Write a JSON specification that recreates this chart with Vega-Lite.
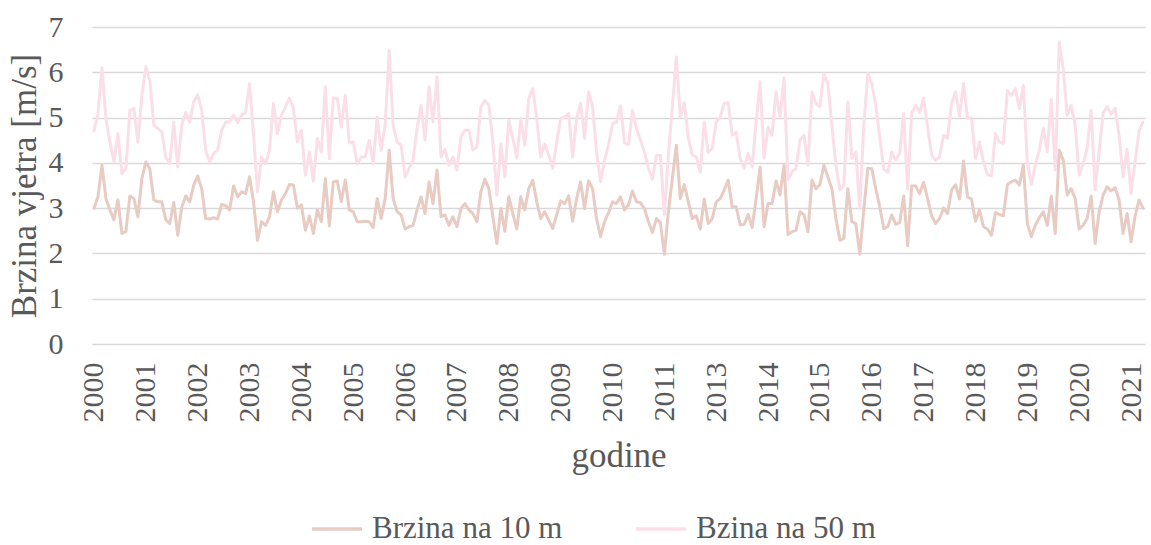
{
  "$schema": "https://vega.github.io/schema/vega-lite/v6.json",
  "width": 1053,
  "height": 317,
  "autosize": "none",
  "padding": {"left": 92, "top": 27, "right": 6, "bottom": 201},
  "background": "white",
  "config": {"view": {"stroke": null}, "font": "Liberation Serif"},
  "data": {"values": [
    {"mjesec":"2000-01","Brzina na 10 m":3.00,"Bzina na 50 m":4.70},
    {"mjesec":"2000-02","Brzina na 10 m":3.25,"Bzina na 50 m":5.09},
    {"mjesec":"2000-03","Brzina na 10 m":3.95,"Bzina na 50 m":6.10},
    {"mjesec":"2000-04","Brzina na 10 m":3.21,"Bzina na 50 m":4.97},
    {"mjesec":"2000-05","Brzina na 10 m":2.96,"Bzina na 50 m":4.46},
    {"mjesec":"2000-06","Brzina na 10 m":2.74,"Bzina na 50 m":4.02},
    {"mjesec":"2000-07","Brzina na 10 m":3.18,"Bzina na 50 m":4.65},
    {"mjesec":"2000-08","Brzina na 10 m":2.44,"Bzina na 50 m":3.76},
    {"mjesec":"2000-09","Brzina na 10 m":2.48,"Bzina na 50 m":3.88},
    {"mjesec":"2000-10","Brzina na 10 m":3.27,"Bzina na 50 m":5.16},
    {"mjesec":"2000-11","Brzina na 10 m":3.21,"Bzina na 50 m":5.20},
    {"mjesec":"2000-12","Brzina na 10 m":2.81,"Bzina na 50 m":4.46},
    {"mjesec":"2001-01","Brzina na 10 m":3.65,"Bzina na 50 m":5.49},
    {"mjesec":"2001-02","Brzina na 10 m":4.02,"Bzina na 50 m":6.12},
    {"mjesec":"2001-03","Brzina na 10 m":3.87,"Bzina na 50 m":5.82},
    {"mjesec":"2001-04","Brzina na 10 m":3.18,"Bzina na 50 m":4.83},
    {"mjesec":"2001-05","Brzina na 10 m":3.14,"Bzina na 50 m":4.76},
    {"mjesec":"2001-06","Brzina na 10 m":3.14,"Bzina na 50 m":4.68},
    {"mjesec":"2001-07","Brzina na 10 m":2.74,"Bzina na 50 m":4.13},
    {"mjesec":"2001-08","Brzina na 10 m":2.66,"Bzina na 50 m":3.98},
    {"mjesec":"2001-09","Brzina na 10 m":3.13,"Bzina na 50 m":4.90},
    {"mjesec":"2001-10","Brzina na 10 m":2.40,"Bzina na 50 m":3.91},
    {"mjesec":"2001-11","Brzina na 10 m":3.02,"Bzina na 50 m":4.83},
    {"mjesec":"2001-12","Brzina na 10 m":3.27,"Bzina na 50 m":5.11},
    {"mjesec":"2002-01","Brzina na 10 m":3.14,"Bzina na 50 m":4.90},
    {"mjesec":"2002-02","Brzina na 10 m":3.51,"Bzina na 50 m":5.35},
    {"mjesec":"2002-03","Brzina na 10 m":3.71,"Bzina na 50 m":5.51},
    {"mjesec":"2002-04","Brzina na 10 m":3.43,"Bzina na 50 m":5.16},
    {"mjesec":"2002-05","Brzina na 10 m":2.77,"Bzina na 50 m":4.28},
    {"mjesec":"2002-06","Brzina na 10 m":2.76,"Bzina na 50 m":4.02},
    {"mjesec":"2002-07","Brzina na 10 m":2.79,"Bzina na 50 m":4.21},
    {"mjesec":"2002-08","Brzina na 10 m":2.76,"Bzina na 50 m":4.28},
    {"mjesec":"2002-09","Brzina na 10 m":3.08,"Bzina na 50 m":4.72},
    {"mjesec":"2002-10","Brzina na 10 m":3.06,"Bzina na 50 m":4.90},
    {"mjesec":"2002-11","Brzina na 10 m":2.96,"Bzina na 50 m":4.90},
    {"mjesec":"2002-12","Brzina na 10 m":3.49,"Bzina na 50 m":5.05},
    {"mjesec":"2003-01","Brzina na 10 m":3.25,"Bzina na 50 m":4.89},
    {"mjesec":"2003-02","Brzina na 10 m":3.36,"Bzina na 50 m":5.05},
    {"mjesec":"2003-03","Brzina na 10 m":3.32,"Bzina na 50 m":5.11},
    {"mjesec":"2003-04","Brzina na 10 m":3.69,"Bzina na 50 m":5.75},
    {"mjesec":"2003-05","Brzina na 10 m":3.14,"Bzina na 50 m":4.61},
    {"mjesec":"2003-06","Brzina na 10 m":2.29,"Bzina na 50 m":3.36},
    {"mjesec":"2003-07","Brzina na 10 m":2.70,"Bzina na 50 m":4.13},
    {"mjesec":"2003-08","Brzina na 10 m":2.62,"Bzina na 50 m":3.98},
    {"mjesec":"2003-09","Brzina na 10 m":2.81,"Bzina na 50 m":4.28},
    {"mjesec":"2003-10","Brzina na 10 m":3.36,"Bzina na 50 m":5.31},
    {"mjesec":"2003-11","Brzina na 10 m":2.92,"Bzina na 50 m":4.64},
    {"mjesec":"2003-12","Brzina na 10 m":3.18,"Bzina na 50 m":5.05},
    {"mjesec":"2004-01","Brzina na 10 m":3.32,"Bzina na 50 m":5.24},
    {"mjesec":"2004-02","Brzina na 10 m":3.52,"Bzina na 50 m":5.43},
    {"mjesec":"2004-03","Brzina na 10 m":3.51,"Bzina na 50 m":5.20},
    {"mjesec":"2004-04","Brzina na 10 m":3.00,"Bzina na 50 m":4.46},
    {"mjesec":"2004-05","Brzina na 10 m":3.07,"Bzina na 50 m":4.72},
    {"mjesec":"2004-06","Brzina na 10 m":2.51,"Bzina na 50 m":3.73},
    {"mjesec":"2004-07","Brzina na 10 m":2.83,"Bzina na 50 m":4.24},
    {"mjesec":"2004-08","Brzina na 10 m":2.44,"Bzina na 50 m":3.60},
    {"mjesec":"2004-09","Brzina na 10 m":2.96,"Bzina na 50 m":4.54},
    {"mjesec":"2004-10","Brzina na 10 m":2.70,"Bzina na 50 m":4.24},
    {"mjesec":"2004-11","Brzina na 10 m":3.65,"Bzina na 50 m":5.68},
    {"mjesec":"2004-12","Brzina na 10 m":2.61,"Bzina na 50 m":4.09},
    {"mjesec":"2005-01","Brzina na 10 m":3.58,"Bzina na 50 m":5.43},
    {"mjesec":"2005-02","Brzina na 10 m":3.60,"Bzina na 50 m":5.42},
    {"mjesec":"2005-03","Brzina na 10 m":3.14,"Bzina na 50 m":4.79},
    {"mjesec":"2005-04","Brzina na 10 m":3.62,"Bzina na 50 m":5.49},
    {"mjesec":"2005-05","Brzina na 10 m":2.96,"Bzina na 50 m":4.44},
    {"mjesec":"2005-06","Brzina na 10 m":2.92,"Bzina na 50 m":4.46},
    {"mjesec":"2005-07","Brzina na 10 m":2.70,"Bzina na 50 m":3.98},
    {"mjesec":"2005-08","Brzina na 10 m":2.70,"Bzina na 50 m":4.13},
    {"mjesec":"2005-09","Brzina na 10 m":2.71,"Bzina na 50 m":4.13},
    {"mjesec":"2005-10","Brzina na 10 m":2.70,"Bzina na 50 m":4.50},
    {"mjesec":"2005-11","Brzina na 10 m":2.57,"Bzina na 50 m":3.98},
    {"mjesec":"2005-12","Brzina na 10 m":3.21,"Bzina na 50 m":5.01},
    {"mjesec":"2006-01","Brzina na 10 m":2.77,"Bzina na 50 m":4.28},
    {"mjesec":"2006-02","Brzina na 10 m":3.21,"Bzina na 50 m":4.83},
    {"mjesec":"2006-03","Brzina na 10 m":4.28,"Bzina na 50 m":6.49},
    {"mjesec":"2006-04","Brzina na 10 m":3.21,"Bzina na 50 m":4.83},
    {"mjesec":"2006-05","Brzina na 10 m":2.92,"Bzina na 50 m":4.46},
    {"mjesec":"2006-06","Brzina na 10 m":2.85,"Bzina na 50 m":4.39},
    {"mjesec":"2006-07","Brzina na 10 m":2.54,"Bzina na 50 m":3.69},
    {"mjesec":"2006-08","Brzina na 10 m":2.59,"Bzina na 50 m":3.88},
    {"mjesec":"2006-09","Brzina na 10 m":2.62,"Bzina na 50 m":4.06},
    {"mjesec":"2006-10","Brzina na 10 m":2.96,"Bzina na 50 m":4.76},
    {"mjesec":"2006-11","Brzina na 10 m":3.25,"Bzina na 50 m":5.27},
    {"mjesec":"2006-12","Brzina na 10 m":2.88,"Bzina na 50 m":4.50},
    {"mjesec":"2007-01","Brzina na 10 m":3.58,"Bzina na 50 m":5.68},
    {"mjesec":"2007-02","Brzina na 10 m":3.10,"Bzina na 50 m":4.90},
    {"mjesec":"2007-03","Brzina na 10 m":3.84,"Bzina na 50 m":5.90},
    {"mjesec":"2007-04","Brzina na 10 m":2.81,"Bzina na 50 m":4.13},
    {"mjesec":"2007-05","Brzina na 10 m":2.85,"Bzina na 50 m":4.30},
    {"mjesec":"2007-06","Brzina na 10 m":2.62,"Bzina na 50 m":3.95},
    {"mjesec":"2007-07","Brzina na 10 m":2.81,"Bzina na 50 m":4.13},
    {"mjesec":"2007-08","Brzina na 10 m":2.59,"Bzina na 50 m":3.84},
    {"mjesec":"2007-09","Brzina na 10 m":2.99,"Bzina na 50 m":4.57},
    {"mjesec":"2007-10","Brzina na 10 m":3.10,"Bzina na 50 m":4.72},
    {"mjesec":"2007-11","Brzina na 10 m":2.96,"Bzina na 50 m":4.72},
    {"mjesec":"2007-12","Brzina na 10 m":2.88,"Bzina na 50 m":4.28},
    {"mjesec":"2008-01","Brzina na 10 m":2.70,"Bzina na 50 m":4.35},
    {"mjesec":"2008-02","Brzina na 10 m":3.36,"Bzina na 50 m":5.24},
    {"mjesec":"2008-03","Brzina na 10 m":3.64,"Bzina na 50 m":5.38},
    {"mjesec":"2008-04","Brzina na 10 m":3.43,"Bzina na 50 m":5.27},
    {"mjesec":"2008-05","Brzina na 10 m":2.81,"Bzina na 50 m":4.46},
    {"mjesec":"2008-06","Brzina na 10 m":2.22,"Bzina na 50 m":3.29},
    {"mjesec":"2008-07","Brzina na 10 m":2.99,"Bzina na 50 m":4.42},
    {"mjesec":"2008-08","Brzina na 10 m":2.49,"Bzina na 50 m":3.69},
    {"mjesec":"2008-09","Brzina na 10 m":3.25,"Bzina na 50 m":4.94},
    {"mjesec":"2008-10","Brzina na 10 m":2.88,"Bzina na 50 m":4.54},
    {"mjesec":"2008-11","Brzina na 10 m":2.54,"Bzina na 50 m":4.10},
    {"mjesec":"2008-12","Brzina na 10 m":3.25,"Bzina na 50 m":4.98},
    {"mjesec":"2009-01","Brzina na 10 m":2.96,"Bzina na 50 m":4.39},
    {"mjesec":"2009-02","Brzina na 10 m":3.43,"Bzina na 50 m":5.42},
    {"mjesec":"2009-03","Brzina na 10 m":3.62,"Bzina na 50 m":5.64},
    {"mjesec":"2009-04","Brzina na 10 m":3.14,"Bzina na 50 m":4.98},
    {"mjesec":"2009-05","Brzina na 10 m":2.77,"Bzina na 50 m":4.13},
    {"mjesec":"2009-06","Brzina na 10 m":2.92,"Bzina na 50 m":4.42},
    {"mjesec":"2009-07","Brzina na 10 m":2.74,"Bzina na 50 m":4.17},
    {"mjesec":"2009-08","Brzina na 10 m":2.55,"Bzina na 50 m":3.88},
    {"mjesec":"2009-09","Brzina na 10 m":2.85,"Bzina na 50 m":4.46},
    {"mjesec":"2009-10","Brzina na 10 m":3.16,"Bzina na 50 m":4.98},
    {"mjesec":"2009-11","Brzina na 10 m":3.10,"Bzina na 50 m":5.01},
    {"mjesec":"2009-12","Brzina na 10 m":3.27,"Bzina na 50 m":5.09},
    {"mjesec":"2010-01","Brzina na 10 m":2.71,"Bzina na 50 m":4.13},
    {"mjesec":"2010-02","Brzina na 10 m":3.21,"Bzina na 50 m":4.98},
    {"mjesec":"2010-03","Brzina na 10 m":3.58,"Bzina na 50 m":5.31},
    {"mjesec":"2010-04","Brzina na 10 m":2.99,"Bzina na 50 m":4.54},
    {"mjesec":"2010-05","Brzina na 10 m":3.60,"Bzina na 50 m":5.57},
    {"mjesec":"2010-06","Brzina na 10 m":3.43,"Bzina na 50 m":5.24},
    {"mjesec":"2010-07","Brzina na 10 m":2.77,"Bzina na 50 m":4.24},
    {"mjesec":"2010-08","Brzina na 10 m":2.37,"Bzina na 50 m":3.58},
    {"mjesec":"2010-09","Brzina na 10 m":2.70,"Bzina na 50 m":4.05},
    {"mjesec":"2010-10","Brzina na 10 m":2.90,"Bzina na 50 m":4.40},
    {"mjesec":"2010-11","Brzina na 10 m":3.14,"Bzina na 50 m":4.87},
    {"mjesec":"2010-12","Brzina na 10 m":3.10,"Bzina na 50 m":4.90},
    {"mjesec":"2011-01","Brzina na 10 m":3.25,"Bzina na 50 m":5.26},
    {"mjesec":"2011-02","Brzina na 10 m":2.96,"Bzina na 50 m":4.45},
    {"mjesec":"2011-03","Brzina na 10 m":3.07,"Bzina na 50 m":4.40},
    {"mjesec":"2011-04","Brzina na 10 m":3.38,"Bzina na 50 m":5.16},
    {"mjesec":"2011-05","Brzina na 10 m":3.14,"Bzina na 50 m":4.76},
    {"mjesec":"2011-06","Brzina na 10 m":3.12,"Bzina na 50 m":4.50},
    {"mjesec":"2011-07","Brzina na 10 m":2.99,"Bzina na 50 m":4.24},
    {"mjesec":"2011-08","Brzina na 10 m":2.70,"Bzina na 50 m":3.88},
    {"mjesec":"2011-09","Brzina na 10 m":2.46,"Bzina na 50 m":3.64},
    {"mjesec":"2011-10","Brzina na 10 m":2.77,"Bzina na 50 m":4.16},
    {"mjesec":"2011-11","Brzina na 10 m":2.68,"Bzina na 50 m":4.17},
    {"mjesec":"2011-12","Brzina na 10 m":1.98,"Bzina na 50 m":2.85},
    {"mjesec":"2012-01","Brzina na 10 m":2.92,"Bzina na 50 m":4.17},
    {"mjesec":"2012-02","Brzina na 10 m":3.65,"Bzina na 50 m":5.24},
    {"mjesec":"2012-03","Brzina na 10 m":4.39,"Bzina na 50 m":6.34},
    {"mjesec":"2012-04","Brzina na 10 m":3.21,"Bzina na 50 m":5.01},
    {"mjesec":"2012-05","Brzina na 10 m":3.52,"Bzina na 50 m":5.33},
    {"mjesec":"2012-06","Brzina na 10 m":3.14,"Bzina na 50 m":4.54},
    {"mjesec":"2012-07","Brzina na 10 m":2.77,"Bzina na 50 m":4.17},
    {"mjesec":"2012-08","Brzina na 10 m":2.83,"Bzina na 50 m":4.13},
    {"mjesec":"2012-09","Brzina na 10 m":2.54,"Bzina na 50 m":3.79},
    {"mjesec":"2012-10","Brzina na 10 m":3.20,"Bzina na 50 m":4.90},
    {"mjesec":"2012-11","Brzina na 10 m":2.66,"Bzina na 50 m":4.23},
    {"mjesec":"2012-12","Brzina na 10 m":2.77,"Bzina na 50 m":4.32},
    {"mjesec":"2013-01","Brzina na 10 m":3.14,"Bzina na 50 m":4.90},
    {"mjesec":"2013-02","Brzina na 10 m":3.21,"Bzina na 50 m":5.01},
    {"mjesec":"2013-03","Brzina na 10 m":3.40,"Bzina na 50 m":5.31},
    {"mjesec":"2013-04","Brzina na 10 m":3.62,"Bzina na 50 m":5.33},
    {"mjesec":"2013-05","Brzina na 10 m":3.03,"Bzina na 50 m":4.61},
    {"mjesec":"2013-06","Brzina na 10 m":3.03,"Bzina na 50 m":4.67},
    {"mjesec":"2013-07","Brzina na 10 m":2.63,"Bzina na 50 m":4.10},
    {"mjesec":"2013-08","Brzina na 10 m":2.64,"Bzina na 50 m":3.88},
    {"mjesec":"2013-09","Brzina na 10 m":2.86,"Bzina na 50 m":4.21},
    {"mjesec":"2013-10","Brzina na 10 m":2.57,"Bzina na 50 m":3.91},
    {"mjesec":"2013-11","Brzina na 10 m":3.21,"Bzina na 50 m":4.90},
    {"mjesec":"2013-12","Brzina na 10 m":3.91,"Bzina na 50 m":5.79},
    {"mjesec":"2014-01","Brzina na 10 m":2.59,"Bzina na 50 m":4.10},
    {"mjesec":"2014-02","Brzina na 10 m":3.10,"Bzina na 50 m":4.79},
    {"mjesec":"2014-03","Brzina na 10 m":3.10,"Bzina na 50 m":4.61},
    {"mjesec":"2014-04","Brzina na 10 m":3.60,"Bzina na 50 m":5.57},
    {"mjesec":"2014-05","Brzina na 10 m":3.29,"Bzina na 50 m":5.01},
    {"mjesec":"2014-06","Brzina na 10 m":3.95,"Bzina na 50 m":5.88},
    {"mjesec":"2014-07","Brzina na 10 m":2.42,"Bzina na 50 m":3.62},
    {"mjesec":"2014-08","Brzina na 10 m":2.48,"Bzina na 50 m":3.80},
    {"mjesec":"2014-09","Brzina na 10 m":2.51,"Bzina na 50 m":3.88},
    {"mjesec":"2014-10","Brzina na 10 m":2.92,"Bzina na 50 m":4.50},
    {"mjesec":"2014-11","Brzina na 10 m":2.85,"Bzina na 50 m":4.61},
    {"mjesec":"2014-12","Brzina na 10 m":2.48,"Bzina na 50 m":3.95},
    {"mjesec":"2015-01","Brzina na 10 m":3.62,"Bzina na 50 m":5.57},
    {"mjesec":"2015-02","Brzina na 10 m":3.43,"Bzina na 50 m":5.31},
    {"mjesec":"2015-03","Brzina na 10 m":3.52,"Bzina na 50 m":5.24},
    {"mjesec":"2015-04","Brzina na 10 m":3.95,"Bzina na 50 m":5.97},
    {"mjesec":"2015-05","Brzina na 10 m":3.69,"Bzina na 50 m":5.75},
    {"mjesec":"2015-06","Brzina na 10 m":3.43,"Bzina na 50 m":4.83},
    {"mjesec":"2015-07","Brzina na 10 m":2.77,"Bzina na 50 m":3.95},
    {"mjesec":"2015-08","Brzina na 10 m":2.29,"Bzina na 50 m":3.40},
    {"mjesec":"2015-09","Brzina na 10 m":2.33,"Bzina na 50 m":3.51},
    {"mjesec":"2015-10","Brzina na 10 m":3.43,"Bzina na 50 m":5.35},
    {"mjesec":"2015-11","Brzina na 10 m":2.70,"Bzina na 50 m":4.10},
    {"mjesec":"2015-12","Brzina na 10 m":2.66,"Bzina na 50 m":4.24},
    {"mjesec":"2016-01","Brzina na 10 m":1.98,"Bzina na 50 m":2.99},
    {"mjesec":"2016-02","Brzina na 10 m":2.96,"Bzina na 50 m":4.83},
    {"mjesec":"2016-03","Brzina na 10 m":3.88,"Bzina na 50 m":5.97},
    {"mjesec":"2016-04","Brzina na 10 m":3.87,"Bzina na 50 m":5.75},
    {"mjesec":"2016-05","Brzina na 10 m":3.43,"Bzina na 50 m":5.27},
    {"mjesec":"2016-06","Brzina na 10 m":3.03,"Bzina na 50 m":4.57},
    {"mjesec":"2016-07","Brzina na 10 m":2.55,"Bzina na 50 m":3.86},
    {"mjesec":"2016-08","Brzina na 10 m":2.59,"Bzina na 50 m":3.79},
    {"mjesec":"2016-09","Brzina na 10 m":2.85,"Bzina na 50 m":4.24},
    {"mjesec":"2016-10","Brzina na 10 m":2.64,"Bzina na 50 m":4.06},
    {"mjesec":"2016-11","Brzina na 10 m":2.68,"Bzina na 50 m":4.21},
    {"mjesec":"2016-12","Brzina na 10 m":3.27,"Bzina na 50 m":5.09},
    {"mjesec":"2017-01","Brzina na 10 m":2.17,"Bzina na 50 m":3.42},
    {"mjesec":"2017-02","Brzina na 10 m":3.49,"Bzina na 50 m":5.09},
    {"mjesec":"2017-03","Brzina na 10 m":3.49,"Bzina na 50 m":5.27},
    {"mjesec":"2017-04","Brzina na 10 m":3.32,"Bzina na 50 m":5.11},
    {"mjesec":"2017-05","Brzina na 10 m":3.57,"Bzina na 50 m":5.43},
    {"mjesec":"2017-06","Brzina na 10 m":3.21,"Bzina na 50 m":4.79},
    {"mjesec":"2017-07","Brzina na 10 m":2.83,"Bzina na 50 m":4.17},
    {"mjesec":"2017-08","Brzina na 10 m":2.66,"Bzina na 50 m":4.06},
    {"mjesec":"2017-09","Brzina na 10 m":2.77,"Bzina na 50 m":4.13},
    {"mjesec":"2017-10","Brzina na 10 m":3.00,"Bzina na 50 m":4.61},
    {"mjesec":"2017-11","Brzina na 10 m":2.88,"Bzina na 50 m":4.54},
    {"mjesec":"2017-12","Brzina na 10 m":3.40,"Bzina na 50 m":5.31},
    {"mjesec":"2018-01","Brzina na 10 m":3.52,"Bzina na 50 m":5.57},
    {"mjesec":"2018-02","Brzina na 10 m":3.20,"Bzina na 50 m":5.04},
    {"mjesec":"2018-03","Brzina na 10 m":4.04,"Bzina na 50 m":5.75},
    {"mjesec":"2018-04","Brzina na 10 m":3.25,"Bzina na 50 m":4.99},
    {"mjesec":"2018-05","Brzina na 10 m":3.20,"Bzina na 50 m":4.99},
    {"mjesec":"2018-06","Brzina na 10 m":2.71,"Bzina na 50 m":4.10},
    {"mjesec":"2018-07","Brzina na 10 m":2.96,"Bzina na 50 m":4.46},
    {"mjesec":"2018-08","Brzina na 10 m":2.59,"Bzina na 50 m":4.02},
    {"mjesec":"2018-09","Brzina na 10 m":2.54,"Bzina na 50 m":3.74},
    {"mjesec":"2018-10","Brzina na 10 m":2.40,"Bzina na 50 m":3.71},
    {"mjesec":"2018-11","Brzina na 10 m":2.90,"Bzina na 50 m":4.65},
    {"mjesec":"2018-12","Brzina na 10 m":2.86,"Bzina na 50 m":4.46},
    {"mjesec":"2019-01","Brzina na 10 m":2.83,"Bzina na 50 m":4.43},
    {"mjesec":"2019-02","Brzina na 10 m":3.52,"Bzina na 50 m":5.60},
    {"mjesec":"2019-03","Brzina na 10 m":3.58,"Bzina na 50 m":5.49},
    {"mjesec":"2019-04","Brzina na 10 m":3.62,"Bzina na 50 m":5.64},
    {"mjesec":"2019-05","Brzina na 10 m":3.51,"Bzina na 50 m":5.20},
    {"mjesec":"2019-06","Brzina na 10 m":3.95,"Bzina na 50 m":5.71},
    {"mjesec":"2019-07","Brzina na 10 m":2.66,"Bzina na 50 m":4.02},
    {"mjesec":"2019-08","Brzina na 10 m":2.37,"Bzina na 50 m":3.52},
    {"mjesec":"2019-09","Brzina na 10 m":2.62,"Bzina na 50 m":3.95},
    {"mjesec":"2019-10","Brzina na 10 m":2.79,"Bzina na 50 m":4.28},
    {"mjesec":"2019-11","Brzina na 10 m":2.92,"Bzina na 50 m":4.76},
    {"mjesec":"2019-12","Brzina na 10 m":2.62,"Bzina na 50 m":4.24},
    {"mjesec":"2020-01","Brzina na 10 m":3.27,"Bzina na 50 m":5.40},
    {"mjesec":"2020-02","Brzina na 10 m":2.44,"Bzina na 50 m":3.84},
    {"mjesec":"2020-03","Brzina na 10 m":4.28,"Bzina na 50 m":6.67},
    {"mjesec":"2020-04","Brzina na 10 m":4.06,"Bzina na 50 m":6.08},
    {"mjesec":"2020-05","Brzina na 10 m":3.29,"Bzina na 50 m":5.05},
    {"mjesec":"2020-06","Brzina na 10 m":3.43,"Bzina na 50 m":5.27},
    {"mjesec":"2020-07","Brzina na 10 m":3.21,"Bzina na 50 m":4.83},
    {"mjesec":"2020-08","Brzina na 10 m":2.54,"Bzina na 50 m":3.73},
    {"mjesec":"2020-09","Brzina na 10 m":2.62,"Bzina na 50 m":3.98},
    {"mjesec":"2020-10","Brzina na 10 m":2.77,"Bzina na 50 m":4.32},
    {"mjesec":"2020-11","Brzina na 10 m":3.27,"Bzina na 50 m":5.16},
    {"mjesec":"2020-12","Brzina na 10 m":2.22,"Bzina na 50 m":3.40},
    {"mjesec":"2021-01","Brzina na 10 m":2.92,"Bzina na 50 m":4.24},
    {"mjesec":"2021-02","Brzina na 10 m":3.29,"Bzina na 50 m":5.11},
    {"mjesec":"2021-03","Brzina na 10 m":3.47,"Bzina na 50 m":5.24},
    {"mjesec":"2021-04","Brzina na 10 m":3.38,"Bzina na 50 m":5.07},
    {"mjesec":"2021-05","Brzina na 10 m":3.45,"Bzina na 50 m":5.21},
    {"mjesec":"2021-06","Brzina na 10 m":3.18,"Bzina na 50 m":4.61},
    {"mjesec":"2021-07","Brzina na 10 m":2.44,"Bzina na 50 m":3.69},
    {"mjesec":"2021-08","Brzina na 10 m":2.88,"Bzina na 50 m":4.30},
    {"mjesec":"2021-09","Brzina na 10 m":2.26,"Bzina na 50 m":3.32},
    {"mjesec":"2021-10","Brzina na 10 m":2.81,"Bzina na 50 m":4.02},
    {"mjesec":"2021-11","Brzina na 10 m":3.18,"Bzina na 50 m":4.70},
    {"mjesec":"2021-12","Brzina na 10 m":3.00,"Bzina na 50 m":4.90}
  ]},
  "transform": [
    {"fold": ["Brzina na 10 m", "Bzina na 50 m"], "as": ["serija", "brzina"]}
  ],
  "mark": {"type": "line", "strokeWidth": 3, "strokeJoin": "round", "strokeCap": "round"},
  "encoding": {
    "x": {
      "field": "mjesec",
      "type": "ordinal",
      "scale": {"type": "point", "padding": 0.5},
      "axis": {
        "values": ["2000-01","2001-02","2002-03","2003-04","2004-05","2005-06","2006-07","2007-08","2008-09","2009-10","2010-11","2011-12","2013-01","2014-02","2015-03","2016-04","2017-05","2018-06","2019-07","2020-08","2021-09"],
        "labelExpr": "substring(datum.label, 0, 4)",
        "labelAngle": -90,
        "labelAlign": "right",
        "labelBaseline": "middle",
        "labelFont": "Liberation Serif",
        "labelFontSize": 30,
        "labelColor": "#595959",
        "labelPadding": 18,
        "ticks": false,
        "domain": false,
        "grid": false,
        "title": "godine",
        "titleFont": "Liberation Serif",
        "titleFontSize": 35,
        "titleFontWeight": "normal",
        "titleColor": "#595959",
        "titlePadding": 16
      }
    },
    "y": {
      "field": "brzina",
      "type": "quantitative",
      "scale": {"domain": [0, 7], "nice": false},
      "axis": {
        "values": [0, 1, 2, 3, 4, 5, 6, 7],
        "ticks": false,
        "domain": false,
        "gridColor": "#d9d9d9",
        "gridWidth": 1.3,
        "labelFont": "Liberation Serif",
        "labelFontSize": 30,
        "labelColor": "#595959",
        "labelPadding": 29,
        "title": "Brzina vjetra [m/s]",
        "titleFont": "Liberation Serif",
        "titleFontSize": 35,
        "titleFontWeight": "normal",
        "titleColor": "#595959",
        "titlePadding": 6
      }
    },
    "color": {
      "field": "serija",
      "type": "nominal",
      "scale": {"domain": ["Brzina na 10 m", "Bzina na 50 m"], "range": ["#e8cbc3", "#fbdfe8"]},
      "legend": {
        "orient": "none",
        "legendX": 218,
        "legendY": 475,
        "direction": "horizontal",
        "title": null,
        "symbolType": "stroke",
        "symbolSize": 2500,
        "symbolStrokeWidth": 3.5,
        "labelFont": "Liberation Serif",
        "labelFontSize": 31,
        "labelColor": "#595959",
        "labelOffset": 8,
        "columnPadding": 66,
        "labelLimit": 400
      }
    }
  }
}
